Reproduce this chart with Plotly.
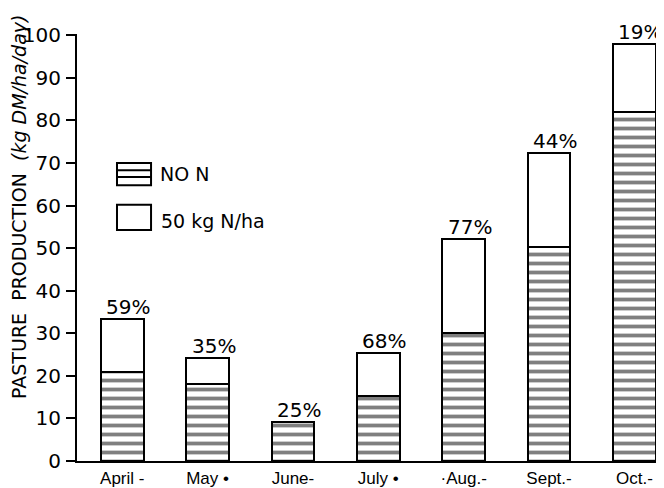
import plotly.graph_objects as go

months = ["April -", "May •", "June-", "July •", "·Aug.-", "Sept.-", "Oct.-"]
no_n = [21.0, 18.2, 9.1, 15.2, 30.0, 50.2, 82.0]
total_50n = [33.4, 24.3, 9.1, 25.3, 52.2, 72.4, 98.0]
pct_labels = ["59%", "35%", "25%", "68%", "77%", "44%", "19%"]
y_ticks = [0, 10, 20, 30, 40, 50, 60, 70, 80, 90, 100]

extra = [t - n for t, n in zip(total_50n, no_n)]
xpos = list(range(len(months)))

fig = go.Figure()
fig.add_trace(go.Bar(
    x=xpos, y=no_n, name="NO N", width=0.5,
    marker=dict(color="white", line=dict(color="black", width=2),
                pattern=dict(shape="-", fgcolor="black", bgcolor="white",
                             size=9, solidity=0.42)),
))
fig.add_trace(go.Bar(
    x=xpos, y=extra, name="50 kg N/ha", width=0.5,
    marker=dict(color="white", line=dict(color="black", width=2)),
))

for x, t, lab in zip(xpos, total_50n, pct_labels):
    fig.add_annotation(x=x, y=t, text=lab, showarrow=False, yanchor="bottom",
                       xshift=6, yshift=-2,
                       font=dict(family="DejaVu Sans", size=20, color="black"))

# legend (drawn manually to match the original swatch sizes)
fig.add_shape(type="rect", xref="paper", yref="paper", x0=0.0686, x1=0.127,
              y0=0.646, y1=0.698, line=dict(color="black", width=2), fillcolor="white")
for yl in [0.681, 0.665]:
    fig.add_shape(type="line", xref="paper", yref="paper", x0=0.0686, x1=0.127,
                  y0=yl, y1=yl, line=dict(color="black", width=2))
fig.add_shape(type="rect", xref="paper", yref="paper", x0=0.0686, x1=0.127,
              y0=0.541, y1=0.600, line=dict(color="black", width=2), fillcolor="white")
fig.add_annotation(xref="paper", yref="paper", x=0.139, y=0.672, text="NO N",
                   showarrow=False, xanchor="left", yanchor="middle",
                   font=dict(family="DejaVu Sans", size=19, color="black"))
fig.add_annotation(xref="paper", yref="paper", x=0.141, y=0.562, text="50 kg N/ha",
                   showarrow=False, xanchor="left", yanchor="middle",
                   font=dict(family="DejaVu Sans", size=19, color="black"))

# y-axis title
fig.add_annotation(xref="paper", yref="paper", x=-0.0995, y=0.595,
                   text="PASTURE  PRODUCTION  <i>(kg DM/ha/day)</i>",
                   textangle=-90, showarrow=False, xanchor="center", yanchor="middle",
                   font=dict(family="DejaVu Sans", size=19, color="black"))

# page body has an 8px margin, so the figure is 8px smaller than the window
fig.update_layout(
    barmode="stack",
    width=656, height=480,
    margin=dict(l=69, r=4, t=26, b=27, autoexpand=False),
    paper_bgcolor="white", plot_bgcolor="white",
    showlegend=False,
    xaxis=dict(range=[-0.53, 6.30], tickvals=xpos, ticktext=months, automargin=False,
               showline=True, linecolor="black", linewidth=2, ticks="",
               showgrid=False, zeroline=False, ticklabelstandoff=1,
               tickfont=dict(family="Liberation Sans", size=17, color="black")),
    yaxis=dict(range=[0, 100.3], tickvals=y_ticks, showline=True, linecolor="black",
               linewidth=2, ticks="outside", ticklen=9, tickwidth=2, tickcolor="black",
               showgrid=False, zeroline=False, ticklabelstandoff=1, automargin=False,
               tickfont=dict(family="DejaVu Sans", size=20, color="black")),
)

fig.write_html("out.html")
